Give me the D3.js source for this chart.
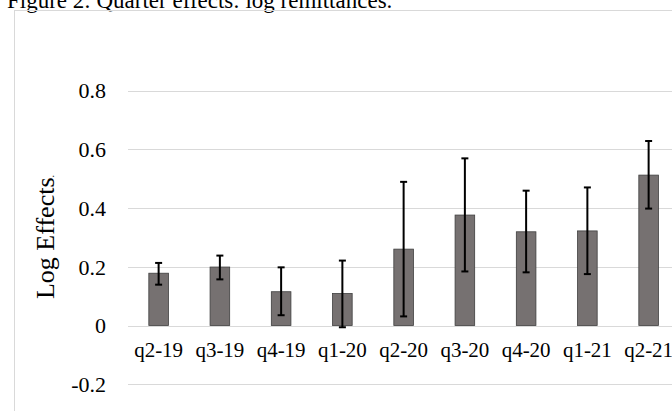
<!DOCTYPE html>
<html><head><meta charset="utf-8">
<script src="https://cdn.jsdelivr.net/npm/d3@7"></script>
<style>body{margin:0;background:#fff;} svg{display:block;}</style>
</head><body>
<svg id="c" width="672" height="411"></svg>
<script>
const categories = ["q2-19","q3-19","q4-19","q1-20","q2-20","q3-20","q4-20","q1-21","q2-21"];
const values     = [0.178, 0.199, 0.115, 0.109, 0.260, 0.376, 0.319, 0.322, 0.512];
const errLow     = [0.139, 0.157, 0.035, -0.006, 0.031, 0.184, 0.181, 0.175, 0.398];
const errHigh    = [0.213, 0.238, 0.198, 0.221, 0.489, 0.569, 0.459, 0.470, 0.628];
const yTicks     = [-0.2, 0, 0.2, 0.4, 0.6, 0.8];
const yTickLabels = ["-0.2","0","0.2","0.4","0.6","0.8"];

const svg = d3.select("#c");
const font = "'Liberation Serif','Times New Roman',serif";

// title (clipped at top, as in the original)
svg.append("text").attr("x", 7).attr("y", 8)
  .style("font-family", font).style("font-size", "23px").attr("fill", "#000")
  .text("Figure 2: Quarter effects: log remittances.");

// chart border
svg.append("rect").attr("x", 14.5).attr("y", 10.5).attr("width", 700).attr("height", 500)
  .attr("fill", "none").attr("stroke", "#d9d9d9").attr("stroke-width", 1);

const x = d3.scaleBand().domain(categories).range([128, 679.25]).paddingInner(0.68).paddingOuter(0.34);
const y = d3.scaleLinear().domain([-0.2, 0.8]).range([384.25, 90.5]);

// gridlines
svg.append("g").selectAll("line").data(yTicks).join("line")
  .attr("x1", 128).attr("x2", 672)
  .attr("y1", d => Math.round(y(d)) + 0.5).attr("y2", d => Math.round(y(d)) + 0.5)
  .attr("stroke", "#d9d9d9").attr("stroke-width", 1.2);

// y axis labels
const yAxis = d3.axisLeft(y).tickValues(yTicks).tickFormat((d, i) => yTickLabels[i]).tickSize(0).tickPadding(0);
const gy = svg.append("g").attr("transform", "translate(106,0)").call(yAxis);
gy.select(".domain").remove();
gy.selectAll("text").style("font-family", font).style("font-size", "22px").attr("fill", "#000").attr("dy", "0.34em");

// bars
svg.append("g").selectAll("rect").data(categories).join("rect")
  .attr("x", d => x(d)).attr("width", x.bandwidth())
  .attr("y", (d, i) => y(values[i])).attr("height", (d, i) => y(0) - y(values[i]))
  .attr("fill", "#767171").attr("stroke", "#3f3f3f").attr("stroke-width", 0.8);

// error bars
const eb = svg.append("g").attr("stroke", "#000").attr("stroke-width", 2);
categories.forEach((c, i) => {
  const cx = x(c) + x.bandwidth() / 2;
  eb.append("line").attr("x1", cx).attr("x2", cx).attr("y1", y(errLow[i])).attr("y2", y(errHigh[i]));
  eb.append("line").attr("x1", cx - 3.5).attr("x2", cx + 3.5).attr("y1", y(errLow[i])).attr("y2", y(errLow[i]));
  eb.append("line").attr("x1", cx - 3.5).attr("x2", cx + 3.5).attr("y1", y(errHigh[i])).attr("y2", y(errHigh[i]));
});

// x labels
const xAxis = d3.axisBottom(x).tickSize(0).tickPadding(0);
const gx = svg.append("g").attr("transform", "translate(0,350)").call(xAxis);
gx.select(".domain").remove();
gx.selectAll("text").style("font-family", font).style("font-size", "21px").attr("fill", "#000").attr("dy", "0.34em");

// y axis title
const yt = svg.append("text").attr("transform", "translate(54,237) rotate(-90)")
  .attr("text-anchor", "middle").style("font-family", font).style("font-size", "26px").attr("fill", "#000");
yt.append("tspan").text("Log Effects");
yt.append("tspan").text(".").style("font-size", "10px");
</script>
</body></html>
